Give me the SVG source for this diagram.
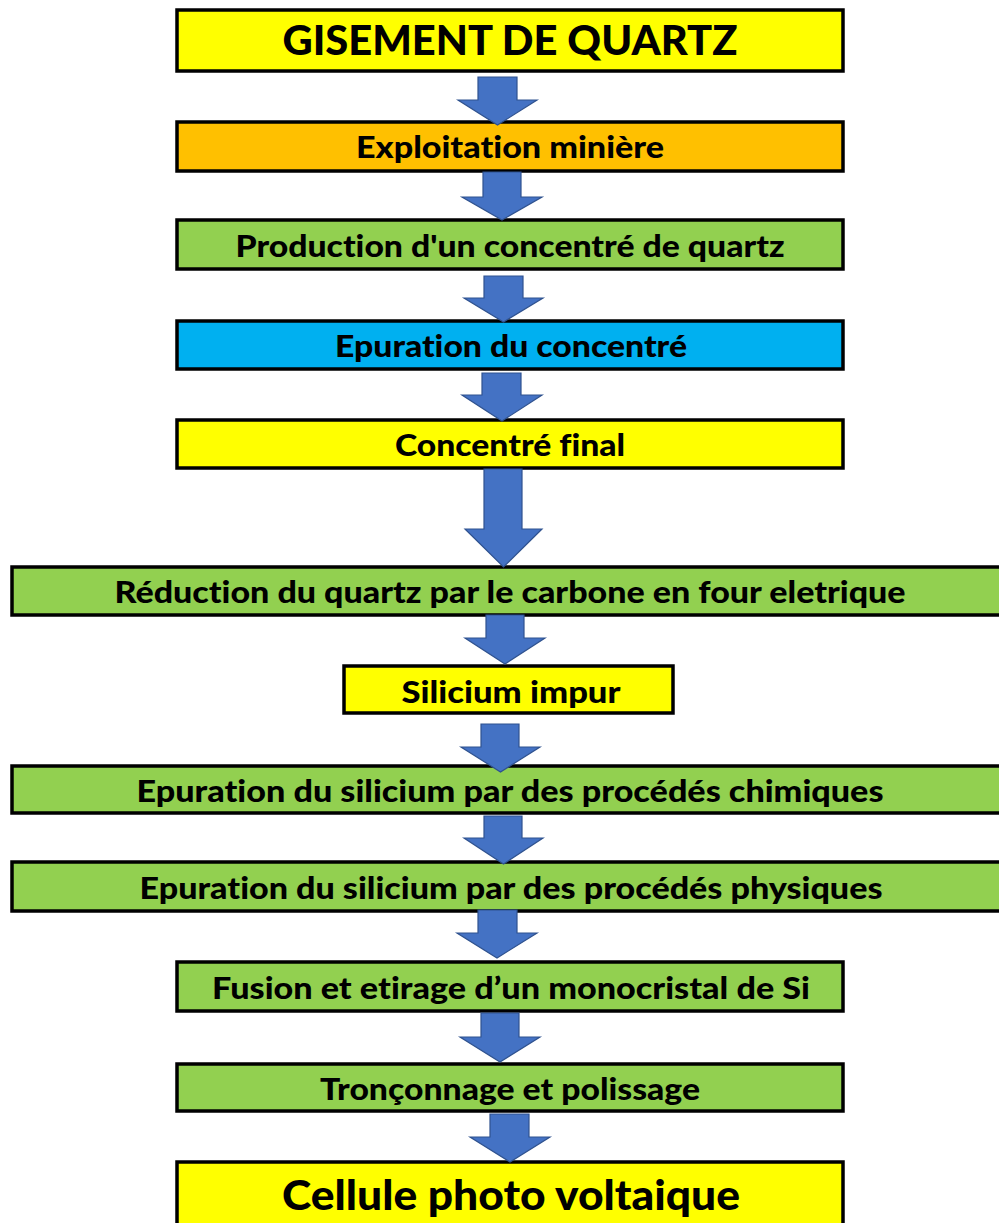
<svg xmlns="http://www.w3.org/2000/svg" width="999" height="1223" viewBox="0 0 999 1223">
<style>
.box{stroke:#000;stroke-width:3.5}
.y{fill:#FFFF00}.o{fill:#FFC000}.g{fill:#92D050}.b{fill:#00B0F0}
.t{font-family:Lato,"Liberation Sans",sans-serif;font-weight:900;fill:#000;text-anchor:middle;font-size:31px;font-variant-ligatures:none}
.big{font-size:41px}
.arr{fill:#4472C4;stroke:#2F528F;stroke-width:1.2;stroke-linejoin:miter}
</style>
<rect width="999" height="1223" fill="#fff"/>
<g id="n1"><rect class="box y" x="177" y="10" width="666" height="61"/><text class="t big" x="510" y="55" textLength="455" lengthAdjust="spacingAndGlyphs">GISEMENT DE QUARTZ</text></g>
<g id="n2"><rect class="box o" x="177" y="122" width="666" height="49"/><text class="t" x="510" y="158" textLength="308" lengthAdjust="spacingAndGlyphs">Exploitation minière</text></g>
<g id="n3"><rect class="box g" x="177" y="220" width="666" height="49"/><text class="t" x="510" y="257" textLength="549" lengthAdjust="spacingAndGlyphs">Production d'un concentré de quartz</text></g>
<g id="n4"><rect class="box b" x="177" y="321" width="666" height="48"/><text class="t" x="511" y="357" textLength="352" lengthAdjust="spacingAndGlyphs">Epuration du concentré</text></g>
<g id="n5"><rect class="box y" x="177" y="420" width="666" height="48"/><text class="t" x="510" y="456" textLength="230" lengthAdjust="spacingAndGlyphs">Concentré final</text></g>
<g id="n6"><rect class="box g" x="12" y="567" width="1000" height="48"/><text class="t" x="510" y="603" textLength="791" lengthAdjust="spacingAndGlyphs">Réduction du quartz par le carbone en four eletrique</text></g>
<g id="n7"><rect class="box y" x="344" y="666" width="329" height="47"/><text class="t" x="511" y="703" textLength="219" lengthAdjust="spacingAndGlyphs">Silicium impur</text></g>
<g id="n8"><rect class="box g" x="12" y="766" width="1000" height="47"/><text class="t" x="510" y="802" textLength="747" lengthAdjust="spacingAndGlyphs">Epuration du silicium par des procédés chimiques</text></g>
<g id="n9"><rect class="box g" x="12" y="862" width="1000" height="49"/><text class="t" x="511" y="899" textLength="743" lengthAdjust="spacingAndGlyphs">Epuration du silicium par des procédés physiques</text></g>
<g id="n10"><rect class="box g" x="177" y="962" width="666" height="49"/><text class="t" x="511" y="999" textLength="598" lengthAdjust="spacingAndGlyphs">Fusion et etirage d’un monocristal de Si</text></g>
<g id="n11"><rect class="box g" x="177" y="1064" width="666" height="47"/><text class="t" x="510" y="1100" textLength="380" lengthAdjust="spacingAndGlyphs">Tronçonnage et polissage</text></g>
<g id="n12"><rect class="box y" x="177" y="1162" width="666" height="80"/><text class="t big" x="511" y="1210" textLength="458" lengthAdjust="spacingAndGlyphs">Cellule photo voltaique</text></g>
<g id="connectors">
<path class="arr" d="M478,77 L517,77 L517,100 L537,100 L497.5,125 L458,100 L478,100 Z"/>
<path class="arr" d="M483,172 L521,172 L521,197 L542,197 L502,220 L462,197 L483,197 Z"/>
<path class="arr" d="M484,276 L523,276 L523,298 L543,298 L503.5,322 L464,298 L484,298 Z"/>
<path class="arr" d="M482,373 L521,373 L521,395 L542,395 L502,421 L462,395 L482,395 Z"/>
<path class="arr" d="M484,469 L522,469 L522,529 L542,529 L503.5,567 L465,529 L484,529 Z"/>
<path class="arr" d="M486,615 L524,615 L524,638 L545,638 L505,664 L465,638 L486,638 Z"/>
<path class="arr" d="M481,724 L519,724 L519,747 L540,747 L500.5,772 L461,747 L481,747 Z"/>
<path class="arr" d="M484,816 L522,816 L522,838 L543,838 L503.5,864 L464,838 L484,838 Z"/>
<path class="arr" d="M478,910 L517,910 L517,933 L537,933 L497,958 L457,933 L478,933 Z"/>
<path class="arr" d="M481,1013 L519,1013 L519,1037 L540,1037 L500,1062 L460,1037 L481,1037 Z"/>
<path class="arr" d="M490,1114 L529,1114 L529,1137 L550,1137 L510,1162 L470,1137 L490,1137 Z"/>
</g>
</svg>
